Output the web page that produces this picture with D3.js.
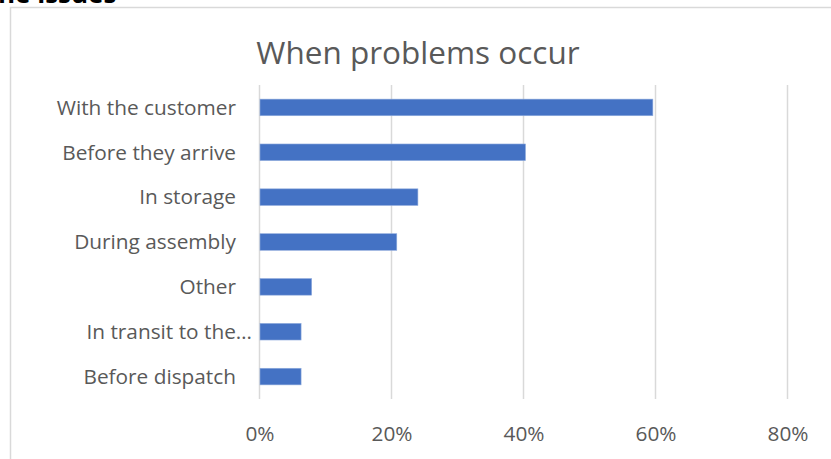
<!DOCTYPE html>
<html>
<head>
<meta charset="utf-8">
<script src="https://cdn.jsdelivr.net/npm/d3@7"></script>
<style>
  html, body { margin: 0; padding: 0; background: #ffffff; }
  svg { display: block; }
  text { font-family: "Open Sans", Lato, sans-serif; }
</style>
</head>
<body>
<svg id="chart" width="831" height="459"></svg>
<script>
// Share of responses for each stage where problems occur
const categories = [
  "With the customer",
  "Before they arrive",
  "In storage",
  "During assembly",
  "Other",
  "In transit to the customer",
  "Before dispatch"
];
const values = [0.596, 0.403, 0.240, 0.208, 0.079, 0.063, 0.063];
const tickValues = [0, 0.2, 0.4, 0.6, 0.8];
const chartTitle = "When problems occur";
const headingText = "ne issues";

const svg = d3.select("#chart");
const W = 831, H = 459;
const FONT = "'Open Sans', Lato, sans-serif";
const LABEL_SIZE = 20.8;

// Heading text above the chart frame, clipped by the top edge
svg.append("text")
  .attr("x", -2).attr("y", 3)
  .attr("font-size", 26).attr("font-weight", "bold")
  .attr("fill", "#000")
  .text(headingText);

// Chart frame
svg.append("rect")
  .attr("x", 10.5).attr("y", 7.5)
  .attr("width", W).attr("height", H)
  .attr("fill", "#fff")
  .attr("stroke", "#d9d9d9").attr("stroke-width", 1.5);

const plot = { left: 259.5, right: 787.5, top: 85, bottom: 399 };

const x = d3.scaleLinear().domain([0, 0.8]).range([plot.left, plot.right]);
const y = d3.scaleBand().domain(categories)
  .range([plot.top, plot.bottom])
  .paddingInner(0.63).paddingOuter(0.315);

// Title
svg.append("text")
  .attr("x", 418).attr("y", 64)
  .attr("text-anchor", "middle")
  .attr("font-size", 31.5)
  .attr("fill", "#595959")
  .text(chartTitle);

// Vertical gridlines
svg.append("g")
  .selectAll("line")
  .data(tickValues)
  .join("line")
  .attr("x1", d => x(d)).attr("x2", d => x(d))
  .attr("y1", plot.top).attr("y2", plot.bottom)
  .attr("stroke", "#d9d9d9").attr("stroke-width", 1.5);

// Bars
svg.append("g")
  .selectAll("rect")
  .data(categories.map((c, i) => ({ c, v: values[i] })))
  .join("rect")
  .attr("x", x(0) + 0.5)
  .attr("y", d => y(d.c))
  .attr("width", d => x(d.v) - x(0) - 0.5)
  .attr("height", y.bandwidth())
  .attr("fill", "#4472c4")
  .attr("stroke", "#8fabdd").attr("stroke-width", 0.6);

// Category labels, long names shortened with an ellipsis
const labelRight = 236;
const maxLabelWidth = 170;
const labels = svg.append("g")
  .selectAll("text")
  .data(categories)
  .join("text")
  .attr("x", labelRight)
  .attr("y", d => y(d) + y.bandwidth() / 2)
  .attr("dy", "0.35em")
  .attr("text-anchor", "end")
  .attr("font-size", LABEL_SIZE)
  .attr("fill", "#595959")
  .text(d => d);

labels.each(function (d) {
  const t = d3.select(this);
  if (this.getComputedTextLength() > maxLabelWidth + 20) {
    let s = d;
    while (s.length > 1) {
      s = s.slice(0, -1);
      t.text(s.trimEnd() + "…");
      if (this.getComputedTextLength() <= maxLabelWidth) break;
    }
    // shortened labels sit closer to the axis
    t.attr("x", labelRight + 16);
  }
});

// Value axis
const xAxis = d3.axisBottom(x)
  .tickValues(tickValues)
  .tickFormat(d3.format(".0%"))
  .tickSize(0)
  .tickPadding(0);

const ax = svg.append("g")
  .attr("transform", `translate(0,${plot.bottom + 27})`)
  .call(xAxis);
ax.select(".domain").remove();
ax.selectAll("text")
  .attr("font-size", LABEL_SIZE)
  .attr("fill", "#595959")
  .attr("font-family", FONT);
</script>
</body>
</html>
